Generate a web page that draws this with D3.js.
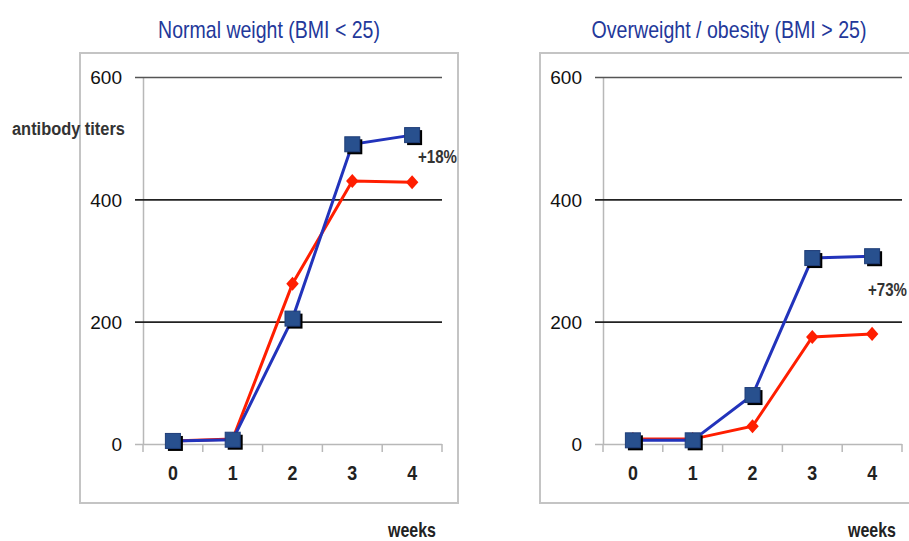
<!DOCTYPE html>
<html><head><meta charset="utf-8">
<script src="https://cdn.jsdelivr.net/npm/d3@7"></script>
<style>body{margin:0;background:#fff}</style>
</head><body>
<svg id="c" width="909" height="541"></svg>
<script>
const weeks = ["0","1","2","3","4"];
const yTicks = [0,200,400,600];
const titles = ["Normal weight (BMI < 25)", "Overweight / obesity (BMI > 25)"];
const notes = ["+18%", "+73%"];
const normalBlue = [5, 7, 205, 490, 505];
const normalRed  = [5, 8, 262, 430, 428];
const obeseBlue  = [6, 6, 80, 304, 307];
const obeseRed   = [8, 8, 29, 175, 180];

const svg = d3.select("#c");
const sans = "'Liberation Sans',Arial,sans-serif";

// condensed text: scaled horizontally to a target width
function ctext(g, x, y, str, size, width, opts={}) {
  const t = g.append("text").attr("x",0).attr("y",0)
    .attr("text-anchor",opts.anchor||"start")
    .attr("font-family",sans).attr("font-size",size)
    .attr("font-weight",opts.bold?"bold":"normal")
    .attr("fill",opts.fill||"#222")
    .text(str);
  const w = t.node().getComputedTextLength();
  t.attr("transform",`translate(${x},${y}) scale(${width/w},1)`);
  return t;
}

const panels = [
  {ox:0, title:titles[0], tw:222, note:notes[0], ny:163, nx:418, blue:normalBlue, red:normalRed, boxW:378},
  {ox:460, title:titles[1], tw:275, note:notes[1], ny:296, nx:408, blue:obeseBlue, red:obeseRed, boxW:420}
];

panels.forEach((p,i)=>{
  const g = svg.append("g").attr("transform",`translate(${p.ox},0)`);
  const x = d3.scaleBand().domain(weeks).range([143,442]).padding(0);
  const y = d3.scaleLinear().domain([0,600]).range([444,77]);

  g.append("rect").attr("x",80).attr("y",53).attr("width",p.boxW).attr("height",450)
    .attr("fill","none").attr("stroke","#c4c4c4").attr("stroke-width",2);

  ctext(g, 269, 38, p.title, 23, p.tw, {anchor:"middle", fill:"#23389a"});

  // y axis with gridlines
  const ya = d3.axisLeft(y).tickValues(yTicks).tickSize(-(442-143)).tickSizeOuter(0).tickPadding(21);
  const yg = g.append("g").attr("transform","translate(143,0)").call(ya);
  yg.select(".domain").attr("stroke","#b8b8b8").attr("stroke-width",1.5);
  yg.selectAll(".tick line").attr("stroke",d=>d===600?"#555":"#222").attr("stroke-width",1.6).attr("x1",-8)
    .filter(d=>d===0).attr("stroke","#b8b8b8");
  yg.selectAll(".tick text").attr("font-family",sans).attr("font-size",19).attr("fill","#111").attr("dy","0.36em");

  // x axis labels
  const xa = d3.axisBottom(x).tickSize(0).tickPadding(21);
  const xg = g.append("g").attr("transform","translate(0,444)").call(xa);
  xg.select(".domain").remove();
  xg.selectAll(".tick text").attr("font-family",sans).attr("font-weight","bold").attr("font-size",21)
    .attr("fill","#222").attr("transform","scale(0.85,1)")
    .attr("x",0);
  xg.selectAll(".tick").each(function(d){
    // keep labels centred after horizontal condensing
    d3.select(this).select("text").attr("transform","scale(0.85,1)");
  });
  // tick marks between categories
  const bounds = weeks.map(w=>x(w)).concat([x(weeks[weeks.length-1])+x.bandwidth()]);
  g.append("g").selectAll("line").data(bounds).join("line")
    .attr("x1",d=>d).attr("x2",d=>d).attr("y1",444).attr("y2",452)
    .attr("stroke","#b8b8b8").attr("stroke-width",1.5);

  const cx = w=>x(w)+x.bandwidth()/2;
  const line = d3.line().x((d,j)=>cx(weeks[j])).y(d=>y(d));

  // red series
  g.append("path").datum(p.red).attr("d",line).attr("fill","none").attr("stroke","#ff1e00").attr("stroke-width",3);
  g.append("g").selectAll("path").data(p.red).join("path")
    .attr("d",d3.symbol(d3.symbolDiamond,80))
    .attr("transform",(d,j)=>`translate(${cx(weeks[j])},${y(d)}) scale(1.3,0.85)`)
    .attr("fill","#ff1e00");

  // blue series
  g.append("path").datum(p.blue).attr("d",line).attr("fill","none").attr("stroke","#2233bb").attr("stroke-width",3);
  const bm = g.append("g").selectAll("g").data(p.blue).join("g")
    .attr("transform",(d,j)=>`translate(${cx(weeks[j])},${y(d)})`);
  bm.append("rect").attr("x",-5).attr("y",-5).attr("width",15).attr("height",15).attr("fill","#000");
  bm.append("rect").attr("x",-7.5).attr("y",-7.5).attr("width",15).attr("height",15).attr("fill","#28508e").attr("stroke","#1f3d78").attr("stroke-width",1);

  ctext(g, p.nx, p.ny, p.note, 19, 39, {bold:true, fill:"#333"});

  ctext(g, 412, 537, "weeks", 20, 48, {anchor:"middle", bold:true, fill:"#222"});
});

ctext(svg, 12, 135, "antibody titers", 19, 113, {bold:true, fill:"#333"});
</script>
</body></html>
